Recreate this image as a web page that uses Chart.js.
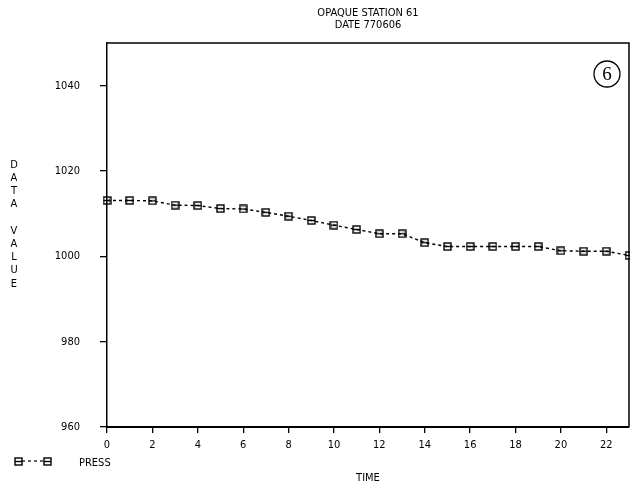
<!DOCTYPE html>
<html>
<head>
<meta charset="utf-8">
<script src="https://cdn.jsdelivr.net/npm/chart.js@4/dist/chart.umd.min.js"></script>
<style>
  html, body { margin: 0; padding: 0; background: #fff; }
  #wrap { width: 630px; height: 488px; position: relative; }
</style>
</head>
<body>
<div id="wrap"><canvas id="grafico" width="630" height="488"></canvas></div>
<script>
const hours = [0, 1, 2, 3, 4, 5, 6, 7, 8, 9, 10, 11, 12, 13, 14, 15, 16, 17, 18, 19, 20, 21, 22, 23];
const press = [1013.1, 1013.1, 1013.0, 1012.0, 1011.9, 1011.2, 1011.1, 1010.3, 1009.4, 1008.4, 1007.3, 1006.3,
  1005.3, 1005.3, 1003.2, 1002.3, 1002.3, 1002.3, 1002.3, 1002.3, 1001.3, 1001.2, 1001.2, 1000.2];
const xTicks = [0, 2, 4, 6, 8, 10, 12, 14, 16, 18, 20, 22];
const yTicks = [960, 980, 1000, 1020, 1040];
const titleLines = ["OPAQUE STATION 61", "DATE 770606"];
const yTitle = ["D", "A", "T", "A", "", "V", "A", "L", "U", "E"];
const xTitle = "TIME";
const seriesName = "PRESS";
const panelNumber = "6";

const fonte = "'Liberation Sans Narrow', 'DejaVu Sans Condensed', sans-serif";

function criarMarcador() {
  const c = document.createElement("canvas");
  c.width = 9;
  c.height = 9;
  const g = c.getContext("2d");
  g.strokeStyle = "#000";
  g.lineWidth = 1.4;
  g.strokeRect(1, 1, 7, 7);
  g.beginPath();
  g.moveTo(1, 4.5);
  g.lineTo(8, 4.5);
  g.stroke();
  return c;
}
const marcador = criarMarcador();

const extras = {
  id: "extras",
  afterDraw(chart) {
    const ctx = chart.ctx;
    const a = chart.chartArea;
    ctx.save();
    ctx.strokeStyle = "#000";
    ctx.lineWidth = 1.5;
    ctx.beginPath();
    ctx.moveTo(a.left, a.top);
    ctx.lineTo(a.right, a.top);
    ctx.lineTo(a.right, a.bottom);
    ctx.stroke();

    ctx.fillStyle = "#000";
    ctx.font = "11px " + fonte;
    ctx.textAlign = "center";
    ctx.textBaseline = "middle";
    const cx = (a.left + a.right) / 2;
    ctx.fillText(titleLines[0], cx, 13);
    ctx.fillText(titleLines[1], cx, 25);
    ctx.fillText(xTitle, 368, 478);

    yTitle.forEach((letra, i) => ctx.fillText(letra, 14, 165 + i * 13.2));

    // legenda
    ctx.textAlign = "left";
    ctx.fillText(seriesName, 79, 463);
    ctx.setLineDash([3, 3]);
    ctx.lineWidth = 1.2;
    ctx.beginPath();
    ctx.moveTo(22, 461);
    ctx.lineTo(46, 461);
    ctx.stroke();
    ctx.setLineDash([]);
    ctx.drawImage(marcador, 14, 457);
    ctx.drawImage(marcador, 43, 457);

    // numero do painel
    ctx.lineWidth = 1.3;
    ctx.beginPath();
    ctx.arc(607, 74, 13, 0, Math.PI * 2);
    ctx.stroke();
    ctx.textAlign = "center";
    ctx.font = "19px 'Liberation Serif', 'DejaVu Serif', serif";
    ctx.fillText(panelNumber, 607, 75);
    ctx.restore();
  }
};

new Chart(document.getElementById("grafico"), {
  type: "line",
  data: {
    labels: hours,
    datasets: [{
      label: seriesName,
      data: hours.map((h, i) => ({ x: h, y: press[i] })),
      borderColor: "#000",
      borderWidth: 1.4,
      borderDash: [3, 3],
      pointStyle: marcador,
      pointRadius: 4,
      tension: 0,
      clip: false
    }]
  },
  options: {
    responsive: false,
    animation: false,
    layout: { autoPadding: false, padding: { top: 43, right: 1, left: 0, bottom: 0 } },
    plugins: { legend: { display: false }, tooltip: { enabled: false } },
    scales: {
      x: {
        type: "linear",
        min: 0,
        max: 23,
        afterBuildTicks: (s) => { s.ticks = xTicks.map((v) => ({ value: v })); },
        afterFit: (s) => { s.height = 61; s.paddingRight = 0; s.paddingLeft = 0; },
        grid: { drawOnChartArea: false, tickLength: 6, color: "#000", lineWidth: 1.3 },
        border: { color: "#000", width: 2 },
        ticks: { color: "#000", font: { family: fonte, size: 11 }, padding: 6, maxRotation: 0 }
      },
      y: {
        min: 960,
        max: 1050,
        afterBuildTicks: (s) => { s.ticks = yTicks.map((v) => ({ value: v })); },
        afterFit: (s) => { s.width = 107; s.paddingTop = 0; s.paddingBottom = 0; },
        grid: { drawOnChartArea: false, tickLength: 7, color: "#000", lineWidth: 1.3 },
        border: { color: "#000", width: 1.5 },
        ticks: { color: "#000", font: { family: fonte, size: 11 }, padding: 20, callback: (v) => String(v) }
      }
    }
  },
  plugins: [extras]
});
</script>
</body>
</html>
